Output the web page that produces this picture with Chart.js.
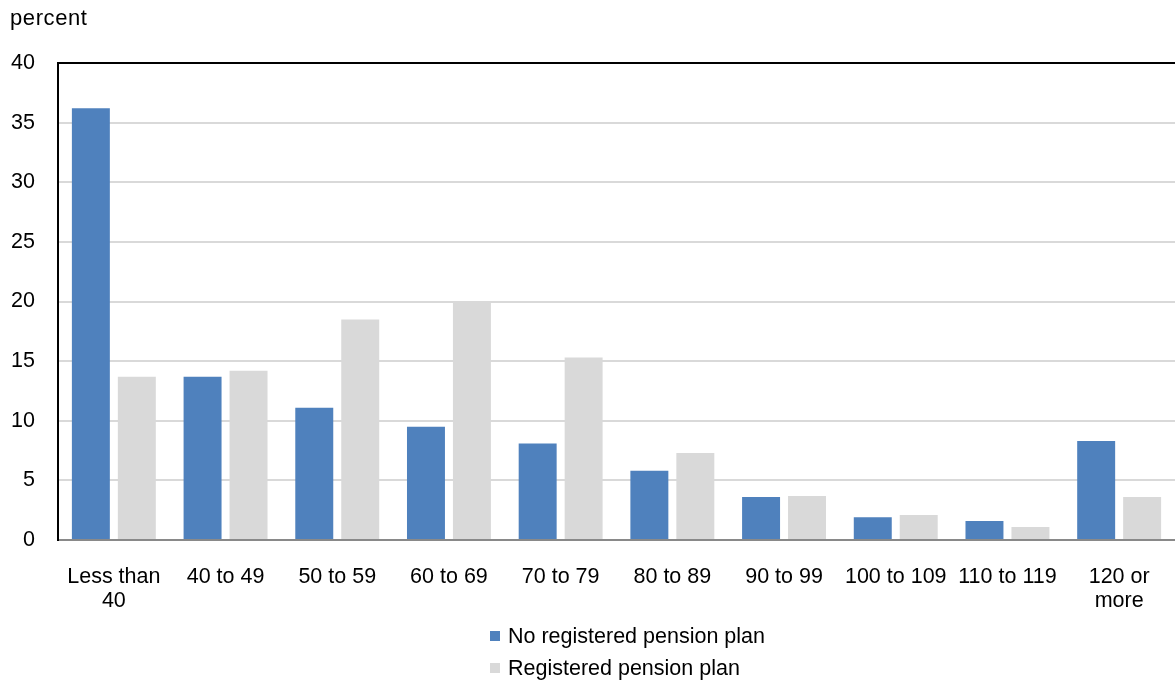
<!DOCTYPE html>
<html>
<head>
<meta charset="utf-8">
<script src="https://cdn.jsdelivr.net/npm/chart.js@4.4.1/dist/chart.umd.min.js"></script>
<style>
  html, body { margin: 0; padding: 0; background: #ffffff; }
  #wrap { position: relative; width: 1175px; height: 681px; }
</style>
</head>
<body>
<div id="wrap"><canvas id="chart" width="1175" height="681"></canvas></div>
<script>
// Income replacement categories (percent of pre-retirement income)
const categories = [
  ['Less than', '40'], '40 to 49', '50 to 59', '60 to 69', '70 to 79',
  '80 to 89', '90 to 99', '100 to 109', '110 to 119', ['120 or', 'more']
];

// Share of households in each category, percent
const noPensionPlan = [36.2, 13.7, 11.1, 9.5, 8.1, 5.8, 3.6, 1.9, 1.6, 8.3];
const pensionPlan   = [13.7, 14.2, 18.5, 19.9, 15.3, 7.3, 3.7, 2.1, 1.1, 3.6];

const seriesNames = ['No registered pension plan', 'Registered pension plan'];
const yTicks = [0, 5, 10, 15, 20, 25, 30, 35, 40];
const unitLabel = 'percent';

const FONT = "'Liberation Sans', Arial, sans-serif";
const BLUE = '#4f81bd';
const GREY = '#d9d9d9';

// Unit caption above the value axis and a stacked legend under the category labels
const extras = {
  id: 'extras',
  afterDraw(chart) {
    const ctx = chart.ctx;
    ctx.save();
    ctx.fillStyle = '#000';
    ctx.font = '22px ' + FONT;
    ctx.textAlign = 'left';
    ctx.textBaseline = 'middle';
    ctx.letterSpacing = '0.6px';
    ctx.fillText(unitLabel, 10, 19);
    ctx.letterSpacing = '0px';

    const x0 = 490;
    const rows = [636, 668];
    chart.data.datasets.forEach((ds, i) => {
      ctx.fillStyle = ds.backgroundColor;
      ctx.fillRect(x0, rows[i] - 5, 10, 10);
      ctx.fillStyle = '#000';
      ctx.font = '21.5px ' + FONT;
      ctx.fillText(ds.label, x0 + 18, rows[i] + 1);
    });
    ctx.restore();
  }
};

new Chart(document.getElementById('chart'), {
  type: 'bar',
  data: {
    labels: categories,
    datasets: [
      { label: seriesNames[0], data: noPensionPlan, backgroundColor: BLUE },
      { label: seriesNames[1], data: pensionPlan, backgroundColor: GREY }
    ]
  },
  options: {
    responsive: false,
    animation: false,
    devicePixelRatio: 1,
    layout: { padding: { top: 63, right: 0, bottom: 0, left: 0 } },
    datasets: {
      bar: { categoryPercentage: 0.823, barPercentage: 0.826, borderWidth: 0 }
    },
    plugins: {
      legend: { display: false },
      title: { display: false },
      tooltip: { enabled: false }
    },
    scales: {
      x: {
        grid: { display: false, drawTicks: false },
        border: { display: false },
        ticks: {
          color: '#000',
          font: { family: FONT, size: 21.5, lineHeight: 1.12 },
          padding: 25,
          maxRotation: 0,
          autoSkip: false
        },
        afterFit(scale) { scale.height = 141; }
      },
      y: {
        min: 0,
        max: 40,
        afterBuildTicks(scale) { scale.ticks = yTicks.map(v => ({ value: v })); },
        grid: {
          drawTicks: false,
          lineWidth: 2,
          color(ctx) {
            if (ctx.tick && ctx.tick.value === 40) return '#000';
            if (ctx.tick && ctx.tick.value === 0) return '#898989';
            return GREY;
          }
        },
        border: { display: true, color: '#000', width: 2 },
        ticks: {
          color: '#000',
          font: { family: FONT, size: 21.5 },
          padding: 23
        },
        afterFit(scale) { scale.width = 58; }
      }
    }
  },
  plugins: [extras]
});
</script>
</body>
</html>
